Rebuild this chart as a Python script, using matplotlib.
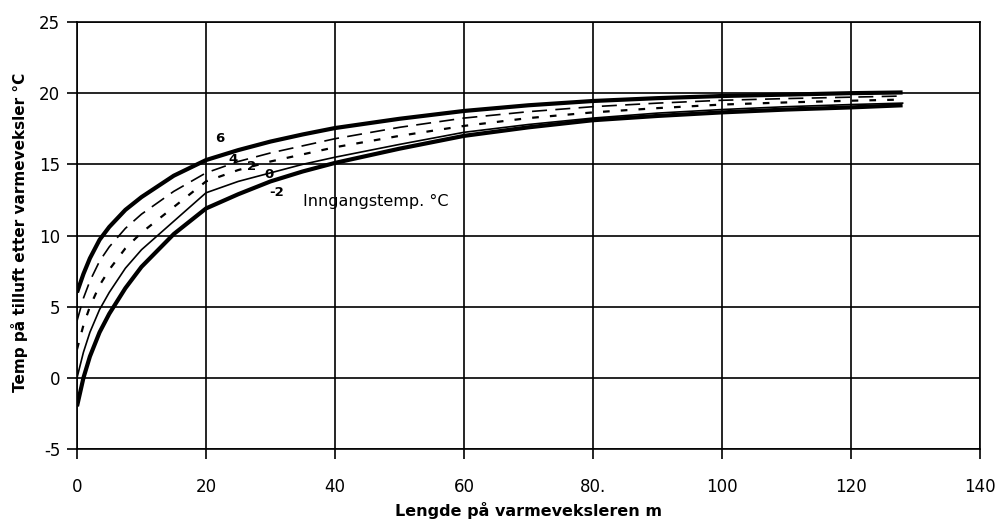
import matplotlib
matplotlib.use("Agg")
import matplotlib.pyplot as plt

# Length of heat exchanger (m)
length_m = [0, 1, 2, 3.5, 5, 7.5, 10, 15, 20, 25, 30, 35, 40, 50, 60, 70, 80, 90, 100, 110, 120, 128]

# Supply-air temperature after exchanger for inlet temperatures 6, 4, 2, 0, -2 °C
temp_in_6  = [6.0, 7.3, 8.4, 9.7, 10.6, 11.8, 12.7, 14.2, 15.3, 16.0, 16.6, 17.1, 17.55, 18.2, 18.75, 19.15, 19.45, 19.65, 19.8, 19.9, 20.0, 20.05]
temp_in_4  = [4.0, 5.6, 6.8, 8.2, 9.2, 10.5, 11.5, 13.1, 14.4, 15.2, 15.8, 16.3, 16.8, 17.6, 18.25, 18.7, 19.05, 19.3, 19.5, 19.62, 19.72, 19.8]
temp_in_2  = [2.0, 3.7, 5.0, 6.5, 7.6, 9.1, 10.2, 12.0, 13.8, 14.6, 15.2, 15.7, 16.2, 17.0, 17.7, 18.25, 18.65, 18.95, 19.2, 19.35, 19.47, 19.55]
temp_in_0  = [0.0, 1.8, 3.2, 4.8, 6.0, 7.7, 9.0, 11.0, 13.0, 13.8, 14.4, 15.0, 15.5, 16.4, 17.25, 17.8, 18.25, 18.6, 18.85, 19.05, 19.2, 19.3]
temp_in_m2 = [-2.0, 0.0, 1.5, 3.2, 4.5, 6.3, 7.8, 10.1, 11.9, 12.9, 13.8, 14.5, 15.1, 16.1, 17.0, 17.6, 18.1, 18.4, 18.65, 18.85, 19.0, 19.15]

curve_labels = ["6", "4", "2", "0", "-2"]
label_pos_x = [22.2, 24.2, 27.1, 29.8, 31.0]
label_pos_y = [16.8, 15.35, 14.85, 14.3, 13.0]

x_ticks = [0, 20, 40, 60, 80, 100, 120, 140]
x_tick_labels = ["0", "20", "40", "60", "80.", "100", "120", "140"]
y_ticks = [-5, 0, 5, 10, 15, 20, 25]

plt.rcParams['font.family'] = ['DejaVu Sans']
plt.rcParams['axes.unicode_minus'] = False

fig = plt.figure(figsize=(10.02, 5.26), dpi=100)
ax = fig.add_axes([77/1002, 1 - 449/526, 903/1002, 427/526])

ax.plot(length_m, temp_in_6, color="black", lw=3.0, solid_capstyle="butt")
ax.plot(length_m, temp_in_4, color="black", lw=1.2, dashes=(9, 5))
ax.plot(length_m, temp_in_2, color="black", lw=1.6, dashes=(3, 5))
ax.plot(length_m, temp_in_0, color="black", lw=1.2)
ax.plot(length_m, temp_in_m2, color="black", lw=3.0, solid_capstyle="butt")

for lab, lx, ly in zip(curve_labels, label_pos_x, label_pos_y):
    ax.text(lx, ly, lab, fontsize=9.5, fontweight="bold", ha="center", va="center")

ax.text(35.0, 12.4, "Inngangstemp. °C", fontsize=11.5, ha="left", va="center")

ax.set_xlim(0, 140)
ax.set_ylim(-5, 25)
ax.set_xticks(x_ticks)
ax.set_xticklabels(x_tick_labels)
ax.set_yticks(y_ticks)
ax.grid(True, color="black", lw=1.2)
for s in ax.spines.values():
    s.set_color("black")
    s.set_linewidth(1.2)
ax.tick_params(axis="both", direction="out", length=7, width=1.2, labelsize=12)
ax.tick_params(axis="x", pad=14)
ax.tick_params(axis="y", pad=5)

ax.set_xlabel("Lengde på varmeveksleren m", fontsize=11.5, fontweight="bold")
ax.set_ylabel("Temp på tilluft etter varmeveksler °C", fontsize=11, fontweight="bold")
ax.xaxis.set_label_coords(0.5, -0.125)
ax.yaxis.set_label_coords(-0.054, 0.508)

fig.savefig("out.png", dpi=100)
